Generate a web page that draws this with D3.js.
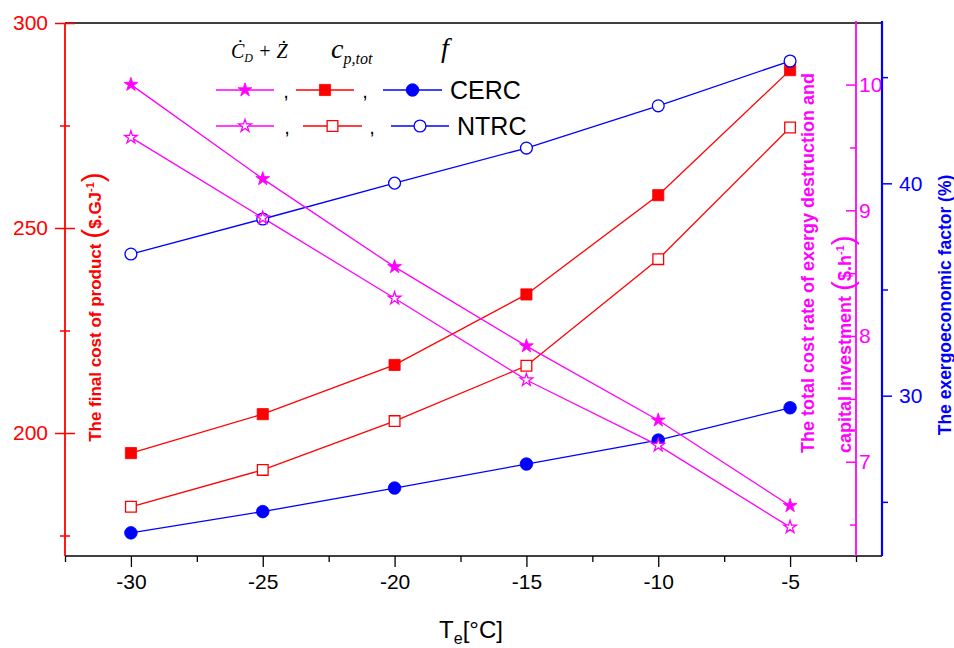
<!DOCTYPE html>
<html>
<head>
<meta charset="utf-8">
<script src="https://cdn.jsdelivr.net/npm/d3@7"></script>
<style>
  body { margin: 0; background: #fff; }
  svg { display: block; font-family: "Liberation Sans", Arial, sans-serif; }
</style>
</head>
<body>
<div id="chart"></div>
<script>
// Evaporator temperature [°C]
const temps = [-30, -25, -20, -15, -10, -5];

// total cost rate of exergy destruction and capital investment ($/h) - magenta axis
const costRateCERC = [10.0, 9.25, 8.55, 7.92, 7.33, 6.65];
const costRateNTRC = [9.58, 8.94, 8.30, 7.65, 7.13, 6.48];

// final cost of product ($/GJ) - left axis
const productCostCERC = [195.1, 204.6, 216.6, 233.8, 258.0, 288.5];
const productCostNTRC = [182.0, 191.0, 202.9, 216.4, 242.4, 274.5];

// exergoeconomic factor (%) - blue axis
const factorCERC = [23.54, 24.54, 25.65, 26.78, 27.91, 29.43];
const factorNTRC = [36.67, 38.32, 40.01, 41.66, 43.65, 45.76];

const xTicks = [-30, -25, -20, -15, -10, -5];
const xMinorTicks = [-32.5, -27.5, -22.5, -17.5, -12.5, -7.5, -2.5];
const leftTicks = [200, 250, 300];
const leftMinorTicks = [175, 225, 275];
const magentaTicks = [7, 8, 9, 10];
const magentaMinorTicks = [6.5, 7.5, 8.5, 9.5];
const blueTicks = [30, 40];
const blueMinorTicks = [25, 35, 45];

(function(){
    const width = 954;
    const height = 648;

    const left = 65, right = 856, blueX = 882;
    const top = 23, bottom = 556;

    const RED = "#ff0000", MAG = "#ff00ff", BLUE = "#0000ff";

    const svg = d3.select("#chart")
        .append("svg")
        .attr("width", width)
        .attr("height", height);

    const x = d3.scaleLinear().domain([-32.5, -2.5]).range([left, right]);
    const yLeft = d3.scaleLinear().domain([170, 300]).range([bottom, top]);
    const yMag = d3.scaleLinear().domain([6.25, 10.49]).range([bottom, top]);
    const yBlue = d3.scaleLinear().domain([22.45, 47.55]).range([bottom, top]);

    // frame line on top
    svg.append("line")
        .attr("x1", left).attr("x2", blueX)
        .attr("y1", top).attr("y2", top)
        .style("stroke", "#000").style("stroke-width", 1.5);

    // x axis
    const xAxis = svg.append("g")
        .attr("transform", `translate(0,${bottom})`)
        .call(d3.axisBottom(x).tickValues(xTicks).tickSize(11).tickPadding(7).tickFormat(d3.format("d")));
    xAxis.select(".domain").remove();
    xAxis.selectAll("line").style("stroke", "#000").style("stroke-width", 1.3);
    xAxis.selectAll("text")
        .style("font-size", "21px")
        .style("fill", "#000")
        .text(d => String(d).replace("\u2212", "-"));

    const xMinor = svg.append("g")
        .attr("transform", `translate(0,${bottom})`)
        .call(d3.axisBottom(x).tickValues(xMinorTicks).tickSize(6).tickFormat(""));
    xMinor.select(".domain").remove();
    xMinor.selectAll("line").style("stroke", "#000").style("stroke-width", 1.3);

    svg.append("line")
        .attr("x1", left).attr("x2", blueX)
        .attr("y1", bottom).attr("y2", bottom)
        .style("stroke", "#000").style("stroke-width", 1.5);

    // left axis (red), ticks crossing the axis line
    const leftAxis = svg.append("g")
        .attr("transform", `translate(${left},0)`)
        .call(d3.axisLeft(yLeft).tickValues(leftTicks).tickSize(10).tickPadding(7));
    leftAxis.select(".domain").remove();
    leftAxis.selectAll("line").attr("x2", -10).attr("x1", 10)
        .style("stroke", RED).style("stroke-width", 1.5);
    leftAxis.selectAll("text").style("font-size", "21px").style("fill", RED);

    const leftMinor = svg.append("g")
        .attr("transform", `translate(${left},0)`)
        .call(d3.axisLeft(yLeft).tickValues(leftMinorTicks).tickSize(5).tickFormat(""));
    leftMinor.select(".domain").remove();
    leftMinor.selectAll("line").attr("x1", 5)
        .style("stroke", RED).style("stroke-width", 1.5);

    svg.append("line")
        .attr("x1", left).attr("x2", left)
        .attr("y1", top).attr("y2", bottom)
        .style("stroke", RED).style("stroke-width", 1.8);

    // magenta axis, ticks pointing inward
    const magAxis = svg.append("g")
        .attr("transform", `translate(${right},0)`)
        .call(d3.axisRight(yMag).tickValues(magentaTicks).tickSize(-10).tickPadding(3).tickFormat(d3.format("d")));
    magAxis.select(".domain").remove();
    magAxis.selectAll("line").style("stroke", MAG).style("stroke-width", 1.5);
    magAxis.selectAll("text").style("font-size", "21px").style("fill", MAG);

    const magMinor = svg.append("g")
        .attr("transform", `translate(${right},0)`)
        .call(d3.axisRight(yMag).tickValues(magentaMinorTicks).tickSize(-6).tickFormat(""));
    magMinor.select(".domain").remove();
    magMinor.selectAll("line").style("stroke", MAG).style("stroke-width", 1.5);

    // blue axis
    const blueAxis = svg.append("g")
        .attr("transform", `translate(${blueX},0)`)
        .call(d3.axisRight(yBlue).tickValues(blueTicks).tickSize(10).tickPadding(7));
    blueAxis.select(".domain").remove();
    blueAxis.selectAll("line").style("stroke", BLUE).style("stroke-width", 1.5);
    blueAxis.selectAll("text").style("font-size", "21px").style("fill", BLUE);

    const blueMinor = svg.append("g")
        .attr("transform", `translate(${blueX},0)`)
        .call(d3.axisRight(yBlue).tickValues(blueMinorTicks).tickSize(6).tickFormat(""));
    blueMinor.select(".domain").remove();
    blueMinor.selectAll("line").style("stroke", BLUE).style("stroke-width", 1.5);

    svg.append("line")
        .attr("x1", blueX).attr("x2", blueX)
        .attr("y1", top - 2).attr("y2", bottom)
        .style("stroke", BLUE).style("stroke-width", 2.2);

    // series
    const series = [
        { values: productCostNTRC, y: yLeft, color: RED, shape: d3.symbolSquare, size: 115, filled: false },
        { values: productCostCERC, y: yLeft, color: RED, shape: d3.symbolSquare, size: 125, filled: true },
        { values: factorCERC, y: yBlue, color: BLUE, shape: d3.symbolCircle, size: 125, filled: true },
        { values: factorNTRC, y: yBlue, color: BLUE, shape: d3.symbolCircle, size: 110, filled: false },
        { values: costRateNTRC, y: yMag, color: MAG, shape: d3.symbolStar, size: 50, filled: false },
        { values: costRateCERC, y: yMag, color: MAG, shape: d3.symbolStar, size: 60, filled: true }
    ];

    series.forEach(s => {
        const pts = temps.map((t, i) => [x(t), s.y(s.values[i])]);
        svg.append("path")
            .attr("d", d3.line()(pts))
            .style("fill", "none")
            .style("stroke", s.color)
            .style("stroke-width", 1.3);
    });

    series.forEach(s => {
        svg.selectAll(null)
            .data(temps)
            .enter()
            .append("path")
            .attr("transform", (t, i) => `translate(${x(t)},${s.y(s.values[i])})`)
            .attr("d", d3.symbol().type(s.shape).size(s.size))
            .style("fill", s.filled ? s.color : "#fff")
            .style("stroke", s.color)
            .style("stroke-width", s.filled ? 0.8 : 1.3);
    });

    // legend
    const legend = svg.append("g");
    const serif = "'Liberation Serif', 'Times New Roman', serif";

    const t1 = legend.append("text")
        .attr("x", 231).attr("y", 58)
        .style("font-family", serif).style("font-style", "italic")
        .style("font-size", "20px").style("fill", "#000");
    t1.append("tspan").text("\u010A");
    t1.append("tspan").attr("dy", 4).style("font-size", "12px").text("D");
    t1.append("tspan").attr("dy", -4).text(" + \u017B");

    const t2 = legend.append("text")
        .attr("x", 331).attr("y", 58)
        .style("font-family", serif).style("font-style", "italic")
        .style("font-size", "28px").style("fill", "#000");
    t2.append("tspan").text("c");
    t2.append("tspan").attr("dy", 6).style("font-size", "16px").text("p,tot");

    legend.append("text")
        .attr("x", 441).attr("y", 57)
        .style("font-family", serif).style("font-style", "italic")
        .style("font-size", "28px").style("fill", "#000")
        .text("f");

    const legendRows = [
        { y: 90, label: "CERC", labelX: 450, filled: true,
          items: [ { x1: 216, x2: 274, color: MAG, shape: d3.symbolStar, size: 60 },
                   { x1: 296, x2: 354, color: RED, shape: d3.symbolSquare, size: 125 },
                   { x1: 383, x2: 442, color: BLUE, shape: d3.symbolCircle, size: 125 } ],
          commas: [286, 365] },
        { y: 126, label: "NTRC", labelX: 457, filled: false,
          items: [ { x1: 216, x2: 274, color: MAG, shape: d3.symbolStar, size: 50 },
                   { x1: 303, x2: 362, color: RED, shape: d3.symbolSquare, size: 115 },
                   { x1: 391, x2: 449, color: BLUE, shape: d3.symbolCircle, size: 110 } ],
          commas: [287, 372] }
    ];

    legendRows.forEach(row => {
        row.items.forEach(it => {
            legend.append("line")
                .attr("x1", it.x1).attr("x2", it.x2)
                .attr("y1", row.y).attr("y2", row.y)
                .style("stroke", it.color).style("stroke-width", 1.3);
            legend.append("path")
                .attr("transform", `translate(${(it.x1 + it.x2) / 2},${row.y})`)
                .attr("d", d3.symbol().type(it.shape).size(it.size))
                .style("fill", row.filled ? it.color : "#fff")
                .style("stroke", it.color)
                .style("stroke-width", row.filled ? 0.8 : 1.3);
        });
        row.commas.forEach(cx => {
            legend.append("text")
                .attr("x", cx).attr("y", row.y + 8)
                .attr("text-anchor", "middle")
                .style("font-size", "20px").style("fill", "#000")
                .text(",");
        });
        legend.append("text")
            .attr("x", row.labelX).attr("y", row.y + 9)
            .style("font-size", "25px").style("fill", "#000")
            .text(row.label);
    });

    // axis titles
    const xTitle = svg.append("text")
        .attr("x", 471).attr("y", 638)
        .attr("text-anchor", "middle")
        .style("font-size", "24px").style("fill", "#000");
    xTitle.append("tspan").text("T");
    xTitle.append("tspan").attr("dy", 6).style("font-size", "16px").text("e");
    xTitle.append("tspan").attr("dy", -6).text("[°C]");

    function unitTitle(xPos, yPos, anchor, color, size, pre, unit) {
        const t = svg.append("text")
            .attr("transform", `translate(${xPos},${yPos}) rotate(-90)`)
            .attr("text-anchor", anchor)
            .style("font-size", size + "px").style("font-weight", "bold")
            .style("fill", color);
        t.append("tspan").text(pre);
        if (unit) {
            t.append("tspan").style("font-size", "30px").style("font-weight", "normal").attr("dy", 2).text("(");
            t.append("tspan").attr("dy", -2).text(unit);
            t.append("tspan").attr("dy", -7).style("font-size", "11px").text("-1");
            t.append("tspan").attr("dy", 9).style("font-size", "30px").style("font-weight", "normal").text(")");
        }
        return t;
    }

    unitTitle(101, 307, "middle", RED, 17, "The final cost of product ", "$.GJ");
    unitTitle(814, 453, "start", MAG, 18, "The total cost rate of exergy destruction and", null);
    unitTitle(851, 453, "start", MAG, 18, "capital investment ", "$.h");
    unitTitle(951, 305, "middle", BLUE, 17.5, "The exergoeconomic factor (%)", null);

    // magenta axis line drawn over its title, as in the original
    svg.append("line")
        .attr("x1", right).attr("x2", right)
        .attr("y1", top - 2).attr("y2", bottom)
        .style("stroke", MAG).style("stroke-width", 1.8);
})();
</script>
</body>
</html>
